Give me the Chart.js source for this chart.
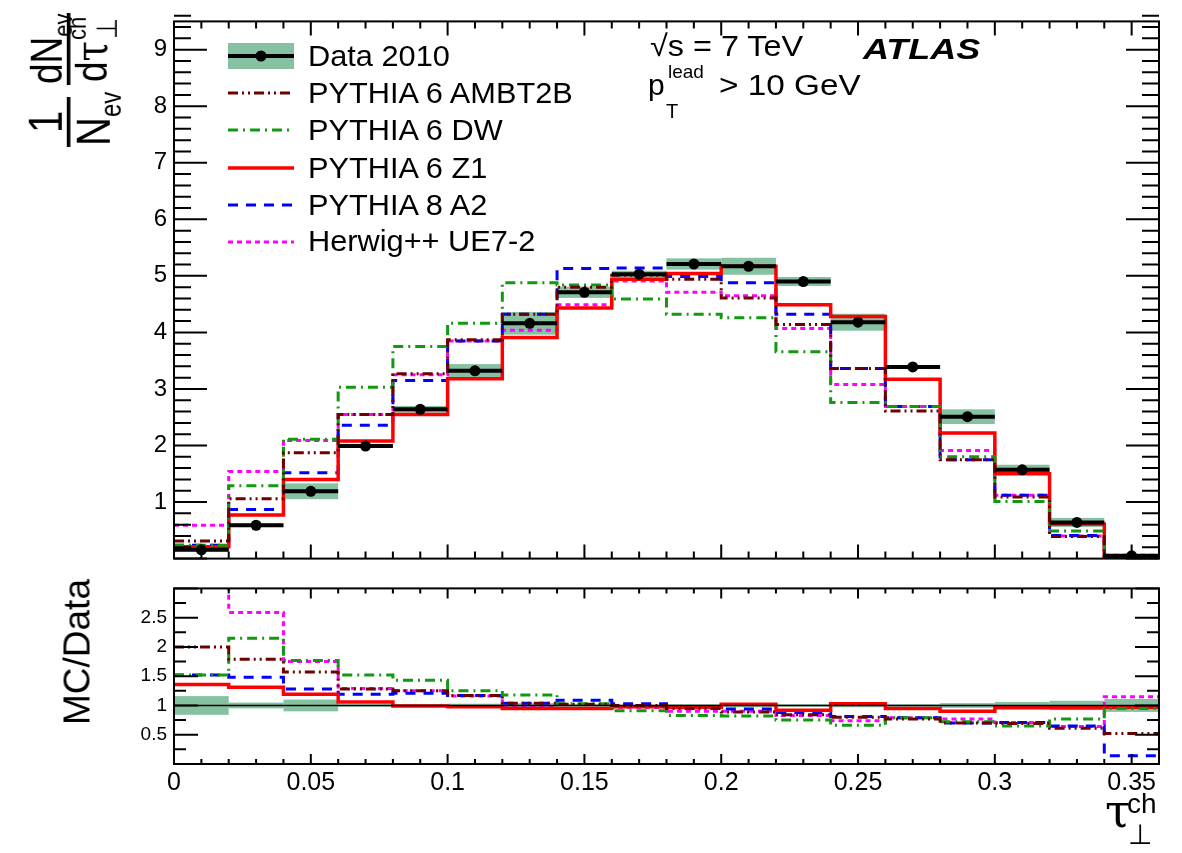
<!DOCTYPE html>
<html><head><meta charset="utf-8">
<script src="https://cdn.jsdelivr.net/npm/chart.js@4/dist/chart.umd.min.js"></script>
<style>
html,body{margin:0;padding:0;background:#fff;}
#wrap{position:relative;width:1182px;height:853px;overflow:hidden;font-family:"Liberation Sans",Arial,sans-serif;color:#000;background:#fff;}
canvas{position:absolute;left:0;}
#c1{top:0;}
#c2{top:570px;}
.t{position:absolute;white-space:nowrap;line-height:1;}
.leg{font-size:29px;transform-origin:0 50%;transform:scaleX(1.06);}
svg{position:absolute;overflow:visible;}
.serif{font-family:'DejaVu Serif','Liberation Serif',serif;}
</style></head><body>
<div id="wrap">
<canvas id="c1" width="1182" height="580"></canvas>
<canvas id="c2" width="1182" height="283"></canvas>

<!-- legend symbols -->
<svg style="left:228px;top:43px" width="66" height="26"><rect x="0" y="0" width="66" height="26" fill="#86c2a2"/><line x1="0" y1="13" x2="66" y2="13" stroke="#000" stroke-width="4"/><circle cx="33" cy="13" r="5.5" fill="#000"/></svg>
<svg style="left:228px;top:83px" width="66" height="20"><line x1="0" y1="10" x2="66" y2="10" stroke="#6e0000" stroke-width="3" stroke-dasharray="10,4,2,4,2,4"/></svg>
<svg style="left:228px;top:120px" width="66" height="20"><line x1="0" y1="10" x2="66" y2="10" stroke="#119911" stroke-width="3" stroke-dasharray="10,5,2,5"/></svg>
<svg style="left:228px;top:158px" width="66" height="20"><line x1="0" y1="10" x2="66" y2="10" stroke="#ff0000" stroke-width="3.5"/></svg>
<svg style="left:228px;top:195px" width="66" height="20"><line x1="0" y1="10" x2="66" y2="10" stroke="#0000ff" stroke-width="3" stroke-dasharray="10,8"/></svg>
<svg style="left:228px;top:232px" width="66" height="20"><line x1="0" y1="10" x2="66" y2="10" stroke="#ff00ff" stroke-width="3" stroke-dasharray="5,4"/></svg>

<div class="t leg" style="left:308px;top:42px">Data 2010</div>
<div class="t leg" style="left:308px;top:79px">PYTHIA 6 AMBT2B</div>
<div class="t leg" style="left:308px;top:116px">PYTHIA 6 DW</div>
<div class="t leg" style="left:308px;top:154px">PYTHIA 6 Z1</div>
<div class="t leg" style="left:308px;top:191px">PYTHIA 8 A2</div>
<div class="t leg" style="left:308px;top:227px">Herwig++ UE7-2</div>

<div class="t" style="left:650px;top:31px;font-size:30px;transform-origin:0 50%;transform:scaleX(1.08)">√s = 7 TeV</div>
<div class="t" style="left:863px;top:35px;font-size:29px;font-weight:bold;font-style:italic;transform-origin:0 50%;transform:scaleX(1.24)">ATLAS</div>
<div class="t" style="left:648px;top:70px;font-size:30px">p</div>
<div class="t" style="left:668px;top:62px;font-size:19px">lead</div>
<div class="t" style="left:666px;top:101px;font-size:20px">T</div>
<div class="t" style="left:719px;top:70px;font-size:30px;transform-origin:0 50%;transform:scaleX(1.11)">&gt; 10 GeV</div>

<!-- upper y title (rotated, slightly stretched across) -->
<div style="position:absolute;left:6px;top:36px;width:136px;height:90px;transform:rotate(-90deg) scaleY(1.2);transform-origin:50% 50%;">
  <div style="position:absolute;left:2px;top:39px;width:50px;height:2.5px;background:#000"></div>
  <div class="t" style="left:16px;top:1px;font-size:40px">1</div>
  <div class="t" style="left:3px;top:41px;font-size:40px">N<span style="font-size:24px;position:relative;top:9px">ev</span></div>
  <div style="position:absolute;left:64px;top:39px;width:72px;height:2.5px;background:#000"></div>
  <div class="t" style="left:65px;top:4px;font-size:37px">dN<span style="font-size:22px;position:relative;top:8px">ev</span></div>
  <div class="t" style="left:67px;top:41px;font-size:37px">d<span class="serif">τ</span></div>
  <div class="t" style="left:109px;top:37px;font-size:22px">ch</div>
  <div class="t" style="left:110px;top:61px;font-size:24px">⊥</div>
</div>

<!-- ratio y title -->
<div class="t" style="left:77px;top:652px;font-size:37px;transform:translate(-50%,-50%) rotate(-90deg);">MC/Data</div>

<!-- x title -->
<div class="t serif" style="left:1105px;top:788px;font-size:46px">τ</div>
<div class="t" style="left:1127px;top:790px;font-size:28px">ch</div>
<div class="t" style="left:1128px;top:821px;font-size:28px">⊥</div>
</div>

<script>
// ---------- data ----------
const binEdges   = [0,0.02,0.04,0.06,0.08,0.10,0.12,0.14,0.16,0.18,0.20,0.22,0.24,0.26,0.28,0.30,0.32,0.34,0.36];
const binCenters = [0.01,0.03,0.05,0.07,0.09,0.11,0.13,0.15,0.17,0.19,0.21,0.23,0.25,0.27,0.29,0.31,0.33,0.35];

const data2010   = [0.155,0.59,1.19,1.99,2.64,3.32,4.16,4.71,5.03,5.21,5.17,4.90,4.18,3.39,2.51,1.57,0.64,0.05];
const data2010Err= [0.025,0.03,0.14,0.03,0.06,0.12,0.20,0.10,0.06,0.10,0.15,0.08,0.15,0.03,0.13,0.09,0.08,0.005];

const ambt2b = [0.31,1.06,1.87,2.55,3.27,3.87,4.32,4.80,5.01,4.94,4.61,4.14,3.36,2.61,1.75,1.09,0.39,0.026];
const dw     = [0.235,1.29,2.11,3.03,3.75,4.16,4.88,4.84,4.59,4.32,4.26,3.66,2.76,2.69,1.80,1.01,0.49,0.048];
const z1     = [0.21,0.77,1.40,2.08,2.55,3.18,3.91,4.43,4.94,5.04,5.17,4.49,4.28,3.17,2.22,1.50,0.61,0.049];
const a2     = [0.235,0.87,1.52,2.36,3.15,3.85,4.32,5.13,5.14,4.99,4.88,4.32,3.36,2.69,1.75,1.12,0.41,0.007];
const ue72   = [0.59,1.54,2.09,2.55,3.25,3.85,4.04,4.49,4.91,4.71,4.65,4.07,3.08,2.69,1.91,1.12,0.40,0.058];

const ratioErr   = [0.16,0.05,0.10,0.02,0.02,0.03,0.04,0.02,0.01,0.02,0.03,0.02,0.03,0.02,0.04,0.06,0.08,0.11];
const rAmbt2b = [2.00,1.79,1.57,1.28,1.25,1.17,1.04,1.02,1.00,0.95,0.89,0.84,0.80,0.77,0.70,0.69,0.61,0.52];
const rDw     = [1.52,2.15,1.77,1.52,1.43,1.25,1.18,1.03,0.91,0.83,0.82,0.75,0.66,0.79,0.72,0.65,0.77,0.95];
const rZ1     = [1.36,1.31,1.19,1.06,0.99,0.98,0.95,0.95,0.98,0.97,1.02,0.92,1.03,0.95,0.90,0.96,0.96,0.97];
const rA2     = [1.52,1.48,1.28,1.19,1.21,1.17,1.04,1.09,1.03,0.96,0.94,0.88,0.81,0.79,0.70,0.71,0.65,0.14];
const rUe72   = [3.80,2.59,1.75,1.29,1.25,1.16,0.97,0.95,0.97,0.90,0.90,0.83,0.74,0.79,0.77,0.71,0.64,1.15];

const xTickValues      = [0,0.05,0.10,0.15,0.20,0.25,0.30,0.35];
const yTickValuesMain  = [1,2,3,4,5,6,7,8,9];
const yTickValuesRatio = [0.5,1,1.5,2,2.5];

// ---------- styles ----------
const FONT = "'Liberation Sans', Arial, sans-serif";
const BAND = '#86c2a2';
const series = [
  {label:'PYTHIA 6 AMBT2B', vals:ambt2b, ratio:rAmbt2b, color:'#6e0000', dash:[10,4,2,4,2,4], w:3},
  {label:'PYTHIA 6 DW',     vals:dw,     ratio:rDw,     color:'#119911', dash:[10,5,2,5],     w:3},
  {label:'PYTHIA 6 Z1',     vals:z1,     ratio:rZ1,     color:'#ff0000', dash:[],            w:3.5},
  {label:'PYTHIA 8 A2',     vals:a2,     ratio:rA2,     color:'#0000ff', dash:[10,8],         w:3},
  {label:'Herwig++ UE7-2',  vals:ue72,   ratio:rUe72,   color:'#ff00ff', dash:[5,4],          w:3},
];

function stepData(vals){ return binEdges.map((e,i)=>({x:e, y:vals[Math.min(i, vals.length-1)]})); }
function hbarData(vals){
  const out=[];
  vals.forEach((v,i)=>{ out.push({x:binEdges[i],y:v},{x:binEdges[i+1],y:v},{x:binEdges[i+1],y:null}); });
  return out;
}
function mcDatasets(key){
  return series.map(s=>({type:'line', label:s.label, data:stepData(s[key]), stepped:'before',
    borderColor:s.color, borderWidth:s.w, borderDash:s.dash, pointRadius:0, fill:false, clip:0, borderCapStyle:'butt'}));
}

function bandPlugin(center, err){
  return { id:'band', beforeDatasetsDraw(chart){
    const {ctx, chartArea:a, scales:{x,y}} = chart;
    ctx.save(); ctx.beginPath(); ctx.rect(a.left,a.top,a.right-a.left,a.bottom-a.top); ctx.clip();
    ctx.fillStyle = BAND;
    for(let i=0;i<binCenters.length;i++){
      const c = Array.isArray(center)?center[i]:center;
      const x0=x.getPixelForValue(binEdges[i]), x1=x.getPixelForValue(binEdges[i+1]);
      const y0=y.getPixelForValue(c+err[i]), y1=y.getPixelForValue(c-err[i]);
      ctx.fillRect(x0,y0,x1-x0,y1-y0);
    }
    ctx.restore();
  }};
}

function framePlugin(cfg){
  return { id:'frame', afterDatasetsDraw(chart){
    const {ctx, chartArea:a, scales:{x,y}} = chart;
    ctx.save(); ctx.strokeStyle='#000'; ctx.lineWidth=2; ctx.beginPath();
    const nx = Math.round((x.max-x.min)/cfg.xMinor);
    for(let k=0;k<=nx;k++){
      const v = x.min + k*cfg.xMinor;
      const r = v/cfg.xMajor; const major = Math.abs(r-Math.round(r))<1e-6;
      const len = major?cfg.xMaj:cfg.xMin; const px = x.getPixelForValue(v);
      ctx.moveTo(px,a.bottom); ctx.lineTo(px,a.bottom-len);
      ctx.moveTo(px,a.top); ctx.lineTo(px,a.top+len);
    }
    const ny = Math.round((y.max-y.min)/cfg.yMinor);
    for(let k=0;k<=ny;k++){
      const v = y.min + k*cfg.yMinor;
      const r = v/cfg.yMajor; const major = Math.abs(r-Math.round(r))<1e-6;
      const len = major?cfg.yMaj:cfg.yMin; const py = y.getPixelForValue(v);
      ctx.moveTo(a.left,py); ctx.lineTo(a.left+len,py);
      ctx.moveTo(a.right,py); ctx.lineTo(a.right-len,py);
    }
    ctx.stroke();
    ctx.lineWidth=2; ctx.strokeRect(a.left,a.top,a.right-a.left,a.bottom-a.top);
    ctx.restore();
  }};
}

Chart.defaults.font.family = FONT;
Chart.defaults.color = '#000';

// ---------- upper panel ----------
new Chart(document.getElementById('c1'), {
  type:'line',
  data:{ datasets:[
    {type:'line', label:'Data 2010', data:binCenters.map((c,i)=>({x:c,y:data2010[i]})), showLine:false,
      pointRadius:5.5, pointBackgroundColor:'#000', pointBorderWidth:0, clip:0},
    {type:'line', label:'Data 2010 bins', data:hbarData(data2010), spanGaps:false, borderColor:'#000', borderWidth:4,
      pointRadius:0, fill:false, clip:0},
    ...mcDatasets('vals')
  ]},
  options:{
    responsive:false, animation:false, events:[],
    layout:{padding:{left:0,right:23,top:15,bottom:21}},
    plugins:{legend:{display:false}, tooltip:{enabled:false}},
    scales:{
      x:{type:'linear', min:0, max:0.36, display:false},
      y:{type:'linear', min:0, max:9.5, afterFit(s){s.width=174;},
         afterBuildTicks(s){ s.ticks = yTickValuesMain.map(v=>({value:v})); },
         grid:{display:false, drawTicks:false}, border:{display:false},
         ticks:{padding:7, font:{size:24}, color:'#000', callback:v=>String(v)}}
    }
  },
  plugins:[bandPlugin(data2010, data2010Err), framePlugin({xMinor:0.01,xMajor:0.05,xMaj:14,xMin:7,yMinor:0.2,yMajor:1,yMaj:33,yMin:17})]
});

// ---------- ratio panel ----------
new Chart(document.getElementById('c2'), {
  type:'line',
  data:{ datasets:[
    {type:'line', label:'unity', data:[{x:binEdges[0],y:1},{x:binEdges[binEdges.length-1],y:1}], borderColor:'#000',
      borderWidth:1.5, pointRadius:0, fill:false, clip:0},
    ...mcDatasets('ratio')
  ]},
  options:{
    responsive:false, animation:false, events:[],
    layout:{padding:{left:0,right:23,top:13,bottom:49}},
    plugins:{legend:{display:false}, tooltip:{enabled:false}},
    scales:{
      x:{type:'linear', min:0, max:0.36, afterFit(s){s.height=40;},
         afterBuildTicks(s){ s.ticks = xTickValues.map(v=>({value:v})); },
         grid:{display:false, drawTicks:false}, border:{display:false},
         ticks:{padding:4, autoSkip:false, maxRotation:0, font:{size:25}, color:'#000',
                callback:v=>String(Number(v.toFixed(2)))}},
      y:{type:'linear', min:0, max:3, afterFit(s){s.width=174;},
         afterBuildTicks(s){ s.ticks = yTickValuesRatio.map(v=>({value:v})); },
         grid:{display:false, drawTicks:false}, border:{display:false},
         ticks:{padding:7, font:{size:19}, color:'#000', callback:v=>String(v)}}
    }
  },
  plugins:[bandPlugin(1, ratioErr), framePlugin({xMinor:0.01,xMajor:0.05,xMaj:10,xMin:5,yMinor:0.25,yMajor:0.5,yMaj:24,yMin:12})]
});
</script>
</body></html>
